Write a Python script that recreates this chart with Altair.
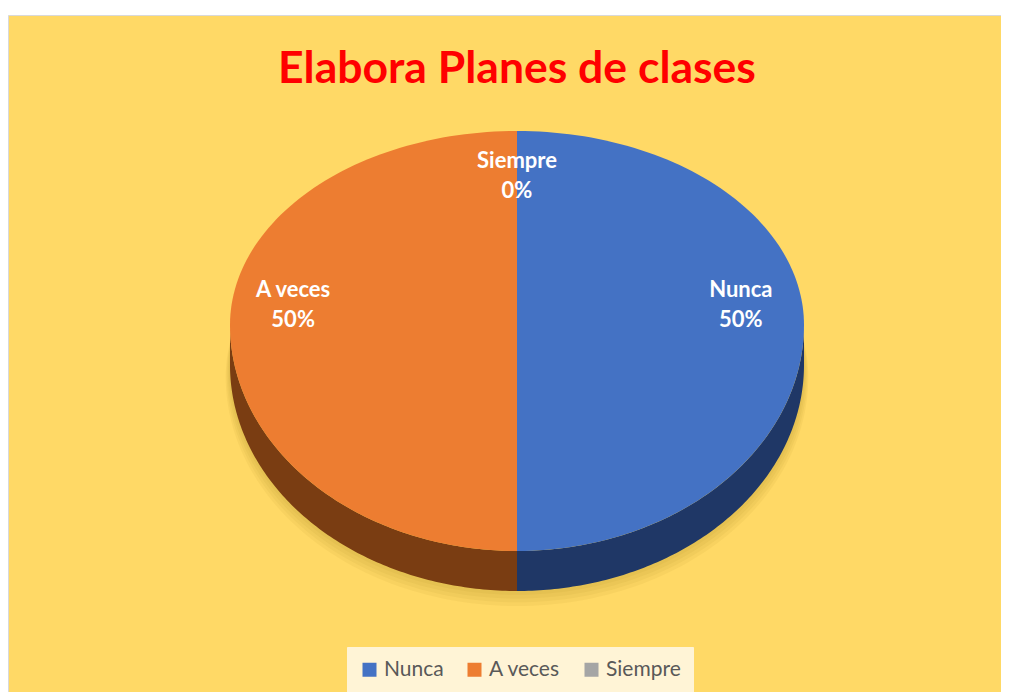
import altair as alt
import pandas as pd

# ---- data ----
title_text = "Elabora Planes de clases"
categories = ["Nunca", "A veces", "Siempre"]
values = [50, 50, 0]
top_colors = ["#4472C4", "#ED7D31", "#A5A5A5"]
side_colors = ["#1F3766", "#7A3D12", "#5E5E5E"]

df = pd.DataFrame({"cat": categories, "value": values, "idx": list(range(len(categories)))})

# geometry constants (unit ellipse; scales stretch it into an ellipse)
K = 226 / 194      # near-half stretch (perspective)
D = 0.206          # thickness of the 3D pie
N = 120            # points per arc

XDOM = [-509 / 287, (993 - 509) / 287]
YDOM = [-(677 - 310) / 194, 310 / 194]
xs = alt.Scale(domain=XDOM, nice=False, zero=False)
ys = alt.Scale(domain=YDOM, nice=False, zero=False)

def rim(expr):
    return f"(cos({expr}) > 0 ? cos({expr}) : cos({expr}) * {K})"

base = (
    alt.Chart(df)
    .transform_joinaggregate(total="sum(value)")
    .transform_window(cum="sum(value)", sort=[alt.SortField("idx")], frame=[None, 0])
    .transform_calculate(
        a0="2 * PI * (datum.cum - datum.value) / datum.total",
        a1="2 * PI * datum.cum / datum.total",
    )
)

# top faces
top = (
    base.transform_calculate(steps=f"sequence(0, {N + 2})")
    .transform_flatten(["steps"], as_=["t"])
    .transform_calculate(ang=f"datum.a0 + (datum.a1 - datum.a0) * (datum.t - 1) / {N}")
    .transform_calculate(
        px="datum.t == 0 ? 0 : sin(datum.ang)",
        py=f"datum.t == 0 ? 0 : {rim('datum.ang')}",
    )
    .mark_line(stroke="transparent", strokeWidth=0, interpolate="linear")
    .encode(
        x=alt.X("px:Q", scale=xs, axis=None),
        y=alt.Y("py:Q", scale=ys, axis=None),
        order="t:Q",
        detail="cat:N",
        fill=alt.Fill(
            "cat:N",
            scale=alt.Scale(domain=categories, range=top_colors),
            sort=categories,
            legend=alt.Legend(
                orient="none", legendX=339, legendY=632, direction="horizontal",
                title=None, symbolType="square", symbolSize=196, symbolStrokeWidth=0,
                labelFont="Lato", labelFontSize=21, labelColor="#595959",
                labelOffset=4, columnPadding=20, padding=12,
                fillColor="#FFF4D6", strokeColor="#FFF4D6",
            ),
        ),
    )
)

# visible sides (front half)
side = (
    base.transform_calculate(
        s0="max(datum.a0, PI / 2)",
        s1="min(datum.a1, 3 * PI / 2)",
    )
    .transform_filter("datum.s1 > datum.s0")
    .transform_calculate(steps=f"sequence(0, {2 * N + 2})")
    .transform_flatten(["steps"], as_=["t"])
    .transform_calculate(
        ang=f"datum.t <= {N} ? datum.s0 + (datum.s1 - datum.s0) * datum.t / {N} : "
            f"datum.s1 - (datum.s1 - datum.s0) * (datum.t - {N + 1}) / {N}"
    )
    .transform_calculate(
        px="sin(datum.ang)",
        py=f"{rim('datum.ang')} - (datum.t > {N} ? {D} : 0)",
    )
    .mark_line(stroke="transparent", strokeWidth=0)
    .encode(
        x=alt.X("px:Q", scale=xs, axis=None),
        y=alt.Y("py:Q", scale=ys, axis=None),
        order="t:Q",
        detail="cat:N",
        fill=alt.Fill("cat:N", scale=alt.Scale(domain=categories, range=side_colors), legend=None),
    )
)

# soft shadow under the pie (mostly downward)
shadow_df = pd.DataFrame({"spread": [0.06, 0.045, 0.03, 0.015]})
shadow = (
    alt.Chart(shadow_df)
    .transform_calculate(steps=f"sequence(0, {2 * N + 1})")
    .transform_flatten(["steps"], as_=["t"])
    .transform_calculate(ang=f"2 * PI * datum.t / {2 * N}")
    .transform_calculate(
        px="sin(datum.ang) * (1 + datum.spread * 0.25)",
        py=f"{rim('datum.ang')} * (1 + datum.spread * 0.25) - {D} - datum.spread",
    )
    .mark_line(stroke="transparent", strokeWidth=0, fill="#9A7A20", fillOpacity=0.07)
    .encode(
        x=alt.X("px:Q", scale=xs, axis=None),
        y=alt.Y("py:Q", scale=ys, axis=None),
        order="t:Q",
        detail="spread:Q",
    )
)

labels = (
    base.transform_calculate(mid="(datum.a0 + datum.a1) / 2")
    .transform_calculate(
        lx="0.78 * sin(datum.mid)",
        ly=f"0.78 * {rim('datum.mid')} + 0.113 * abs(sin(datum.mid))",
        lab="datum.cat + '\\n' + format(datum.value / datum.total, '.0%')",
    )
    .mark_text(font="Lato", fontWeight="bold", fontSize=22, color="white",
               lineBreak="\n", lineHeight=30, baseline="middle", align="center", dy=-13)
    .encode(
        x=alt.X("lx:Q", scale=xs, axis=None),
        y=alt.Y("ly:Q", scale=ys, axis=None),
        text="lab:N",
    )
)

title = (
    alt.Chart(pd.DataFrame({"title": [title_text]}))
    .mark_text(font="Lato", fontWeight="bold", fontSize=44.5, color="#FF0000",
               baseline="alphabetic", align="center")
    .encode(text="title:N", x=alt.value(509), y=alt.value(68))
)

chart = (
    alt.layer(shadow, side, top, labels, title)
    .resolve_scale(fill="independent")
    .properties(
        width=993, height=677,
        autosize=alt.AutoSizeParams(type="none"),
        padding={"left": 0, "top": 7, "right": 0, "bottom": 0},
        background="white",
    )
    .configure_view(fill="#FFD966", stroke="#D9D9D9", strokeWidth=1)
)

chart.save("out.html", embed_options={"renderer": "svg", "actions": False})
